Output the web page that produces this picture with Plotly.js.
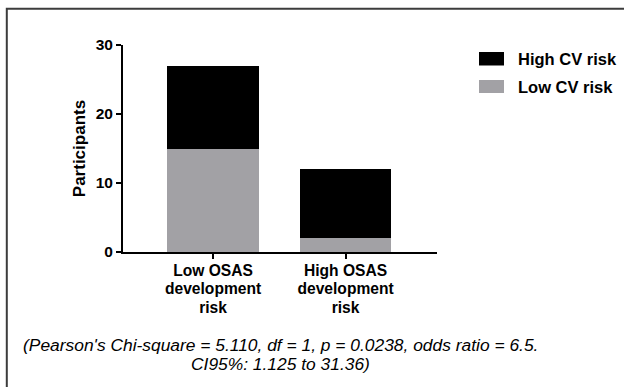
<!DOCTYPE html>
<html>
<head>
<meta charset="utf-8">
<script src="https://cdn.plot.ly/plotly-3.0.1.min.js"></script>
<style>
  html, body { margin: 0; padding: 0; background: #fff; }
  #chart { width: 624px; height: 387px; }
</style>
</head>
<body>
<div id="chart"></div>
<script>
// Participants by OSAS development risk, split by cardiovascular risk
const categories = ['Low OSAS<br>development<br>risk', 'High OSAS<br>development<br>risk'];
const lowCvRisk = [15, 2];
const highCvRisk = [12, 10];
const seriesNames = ['High CV risk', 'Low CV risk'];
const yTickValues = [0, 10, 20, 30];
const captionLines = [
  "(Pearson's Chi-square = 5.110, df = 1, p = 0.0238, odds ratio = 6.5.",
  "CI95%: 1.125 to 31.36)"
];

const W = 624, H = 387;
const margin = { l: 123, r: 187, t: 45, b: 135 };
const plotW = W - margin.l - margin.r;
const plotH = H - margin.t - margin.b;
// pixel -> paper coordinate helpers for decorations outside the plot area
const px = x => (x - margin.l) / plotW;
const py = y => (H - margin.b - y) / plotH;

const FONT = 'Arial, "Liberation Sans", Helvetica, sans-serif';
const BLACK = '#000000';
const GREY = '#a2a1a5';

const traces = [
  {
    type: 'bar', x: categories, y: lowCvRisk, name: seriesNames[1],
    marker: { color: GREY, line: { width: 0 } }, width: 0.69, hoverinfo: 'skip'
  },
  {
    type: 'bar', x: categories, y: highCvRisk, name: seriesNames[0],
    marker: { color: BLACK, line: { width: 0 } }, width: 0.69, hoverinfo: 'skip'
  }
];

// legend drawn as swatches + labels
const legendItems = [
  { name: seriesNames[0], color: BLACK, top: 52, bottom: 65.5, cy: 59 },
  { name: seriesNames[1], color: GREY, top: 80, bottom: 93, cy: 87 }
];

const shapes = [
  // outer frame (open to the right and bottom)
  { type: 'rect', xref: 'paper', yref: 'paper',
    x0: px(6.8), x1: px(640), y0: py(8.8), y1: py(400),
    line: { color: '#3c3c3c', width: 2 }, fillcolor: 'rgba(0,0,0,0)' }
];
const annotations = [];
legendItems.forEach(it => {
  shapes.push({ type: 'rect', xref: 'paper', yref: 'paper',
    x0: px(479), x1: px(504), y0: py(it.bottom), y1: py(it.top),
    fillcolor: it.color, line: { width: 0 } });
  annotations.push({ xref: 'paper', yref: 'paper', x: px(516), y: py(it.cy),
    xanchor: 'left', yanchor: 'middle', showarrow: false, text: '<b>' + it.name + '</b>',
    font: { family: FONT, size: 16.5, color: BLACK } });
});
[345, 363.5].forEach((cy, i) => {
  annotations.push({ xref: 'paper', yref: 'paper', x: px(280), y: py(cy),
    xanchor: 'center', yanchor: 'middle', showarrow: false,
    text: '<i>' + captionLines[i] + '</i>',
    font: { family: FONT, size: 17.4, color: BLACK } });
});

const layout = {
  width: W, height: H,
  margin: margin,
  paper_bgcolor: '#ffffff', plot_bgcolor: '#ffffff',
  barmode: 'stack',
  showlegend: false,
  font: { family: FONT, color: BLACK },
  xaxis: {
    type: 'category', range: [-0.68, 1.69], fixedrange: true,
    showline: true, linecolor: BLACK, linewidth: 2,
    ticks: 'outside', ticklen: 5, tickwidth: 2, tickcolor: BLACK,
    showgrid: false, zeroline: false, ticklabelstandoff: -2,
    tickfont: { family: FONT, size: 15.6, color: BLACK, weight: 'bold' }
  },
  yaxis: {
    range: [0, 30], fixedrange: true,
    tickvals: yTickValues, ticktext: yTickValues.map(String),
    showline: true, linecolor: BLACK, linewidth: 2,
    ticks: 'outside', ticklen: 5, tickwidth: 2, tickcolor: BLACK,
    showgrid: false, zeroline: false,
    tickfont: { family: FONT, size: 15.5, color: BLACK, weight: 'bold' },
    title: { text: '<b>Participants</b>', standoff: 6,
      font: { family: FONT, size: 17, color: BLACK } }
  },
  shapes: shapes,
  annotations: annotations
};

Plotly.newPlot('chart', traces, layout, { staticPlot: true, displayModeBar: false })
  .then(gd => {
    // tighter line spacing for the multi-line category labels
    gd.querySelectorAll('.xtick text tspan.line').forEach(t => {
      const dy = t.getAttribute('dy');
      if (dy && dy !== '0em') t.setAttribute('dy', (parseFloat(dy) * 0.92).toFixed(3) + 'em');
    });
  });
</script>
</body>
</html>
